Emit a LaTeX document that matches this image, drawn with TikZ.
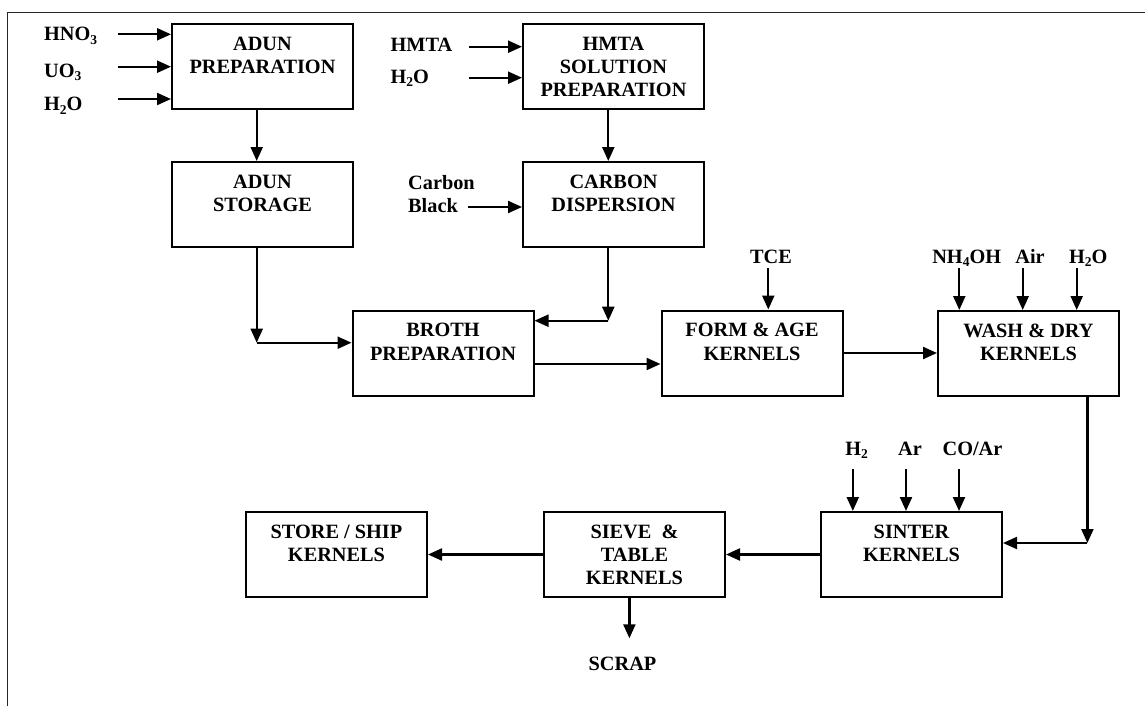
\documentclass[tikz,border=0pt]{standalone}
\usepackage{fontspec}
\setmainfont{Liberation Serif}
\usetikzlibrary{arrows.meta}
\newcommand{\sbs}[1]{\raisebox{-3.5pt}{\fontsize{13.5}{14}\selectfont #1}}
\begin{document}
\begin{tikzpicture}[x=1pt,y=-1pt,
  every node/.style={font=\bfseries\fontsize{20.3}{23.3}\selectfont, inner sep=0pt},
  box/.style={draw, line width=2pt, minimum width=181pt, minimum height=85pt},
  btxt/.style={anchor=north, align=center},
  lbl/.style={anchor=base west},
  clbl/.style={anchor=base},
  arr/.style={line width=2.2pt, -{Triangle[length=14pt,width=12pt]}}]
\useasboundingbox (0,0) rectangle (1145,706);
\draw[line width=1.5pt, black!85] (7.5,706) -- (7.5,12.5) -- (1145,12.5);

% boxes
\node[box] (adp) at (262.5,66.5) {};
\node[btxt] (adpT) at ([yshift=-10.7pt]adp.north) {\strut ADUN\\PREPARATION};
\node[box] (ads) at (262.5,204.5) {};
\node[btxt] (adsT) at ([yshift=-10.7pt]ads.north) {\strut ADUN\\STORAGE};
\node[box] (hmp) at (613.5,66.5) {};
\node[btxt] (hmpT) at ([yshift=-10.7pt]hmp.north) {\strut HMTA\\SOLUTION\\PREPARATION};
\node[box] (cbd) at (613.5,204.5) {};
\node[btxt] (cbdT) at ([yshift=-10.7pt]cbd.north) {\strut CARBON\\DISPERSION};
\node[box] (brp) at (443,353) {};
\node[btxt] (brpT) at ([yshift=-10.7pt]brp.north) {\strut BROTH\\PREPARATION};
\node[box] (fak) at (752,353) {};
\node[btxt] (fakT) at ([yshift=-10.7pt]fak.north) {\strut FORM \& AGE\\KERNELS};
\node[box] (wdk) at (1028.5,353.5) {};
\node[btxt] (wdkT) at ([yshift=-10.7pt]wdk.north) {\strut WASH \& DRY\\KERNELS};
\node[box] (sin) at (911.5,554.5) {};
\node[btxt] (sinT) at ([yshift=-10.7pt]sin.north) {\strut SINTER\\KERNELS};
\node[box] (sie) at (634.5,554.5) {};
\node[btxt] (sieT) at ([yshift=-10.7pt]sie.north) {\strut SIEVE\ \ \&\\TABLE\\KERNELS};
\node[box] (sto) at (336.5,554.5) {};
\node[btxt] (stoT) at ([yshift=-10.7pt]sto.north) {\strut STORE / SHIP\\KERNELS};

% labels
\node[lbl] (lHNO) at (44,40.7) {HNO\sbs{3}};
\node[lbl] (lUO) at (44,77.3) {UO\sbs{3}};
\node[lbl] (lH2Oa) at (44,111) {H\sbs{2}O};
\node[lbl] (lHMTA) at (390.5,51.7) {HMTA};
\node[lbl] (lH2Ob) at (390.5,83.3) {H\sbs{2}O};
\node[lbl] (lC) at (408,189.3) {Carbon};
\node[lbl] (lB) at (408,212.7) {Black};
\node[clbl] (lTCE) at (771,263.3) {TCE};
\node[clbl] (lNH) at (966.7,263.3) {NH\sbs{4}OH};
\node[clbl] (lAir) at (1030,263.3) {Air};
\node[clbl] (lH2Oc) at (1088.3,263.3) {H\sbs{2}O};
\node[clbl] (lH2) at (856.6,455) {H\sbs{2}};
\node[clbl] (lAr) at (910,455) {Ar};
\node[clbl] (lCOAr) at (972.5,455) {CO/Ar};
\node[clbl] (lSC) at (622.5,670) {SCRAP};

% input arrows
\coordinate (iHNO) at (118,34.3);
\coordinate (iUO) at (118,66.7);
\coordinate (iH2Oa) at (118,99);
\coordinate (iHMTA) at (469,46.7);
\coordinate (iH2Ob) at (469,77.7);
\coordinate (iCB) at (468,207);
\foreach \c in {iHNO,iUO,iH2Oa} \draw[arr] (\c) -- (\c -| adp.west);
\foreach \c in {iHMTA,iH2Ob} \draw[arr] (\c) -- (\c -| hmp.west);
\draw[arr] (iCB) -- (iCB -| cbd.west);

\coordinate (iTCE) at (768.3,268.3);
\draw[arr] (iTCE) -- (iTCE |- fak.north);
\coordinate (iNH) at (959.3,268.3);
\coordinate (iAir) at (1022.7,268.3);
\coordinate (iH2Oc) at (1076.7,268.3);
\foreach \c in {iNH,iAir,iH2Oc} \draw[arr] (\c) -- (\c |- wdk.north);
\coordinate (iH2) at (852.8,469.3);
\coordinate (iAr) at (906,469.3);
\coordinate (iCO) at (959,469.3);
\foreach \c in {iH2,iAr,iCO} \draw[arr] (\c) -- (\c |- sin.north);

% process arrows
\draw[arr] ([xshift=-5.8pt]adp.south) -- ([xshift=-5.8pt]ads.north);
\draw[arr] ([xshift=-5.2pt]hmp.south) -- ([xshift=-5.2pt]cbd.north);
\coordinate (c1) at (256.7,342.7);
\draw[arr] ([xshift=-5.8pt]ads.south) -- (c1);
\draw[arr] (c1) -- (c1 -| brp.west);
\coordinate (c2) at (608.3,320.7);
\draw[arr] ([xshift=-5.2pt]cbd.south) -- (c2);
\draw[arr] (c2) -- (c2 -| brp.east);
\draw[arr] ([yshift=-11pt]brp.east) -- ([yshift=-11pt]brp.east -| fak.west);
\draw[arr] (fak.east) -- (fak.east -| wdk.west);
\coordinate (c3) at (1087.4,543);
\draw[arr] (c3 |- wdk.south) -- (c3);
\draw[arr] (c3) -- (c3 -| sin.east);
\draw[arr] (sin.west) -- (sin.west -| sie.east);
\draw[arr] (sie.west) -- (sie.west -| sto.east);
\coordinate (iSC) at (629.4,638.3);
\draw[arr] (iSC |- sie.south) -- (iSC);
\end{tikzpicture}
\end{document}
